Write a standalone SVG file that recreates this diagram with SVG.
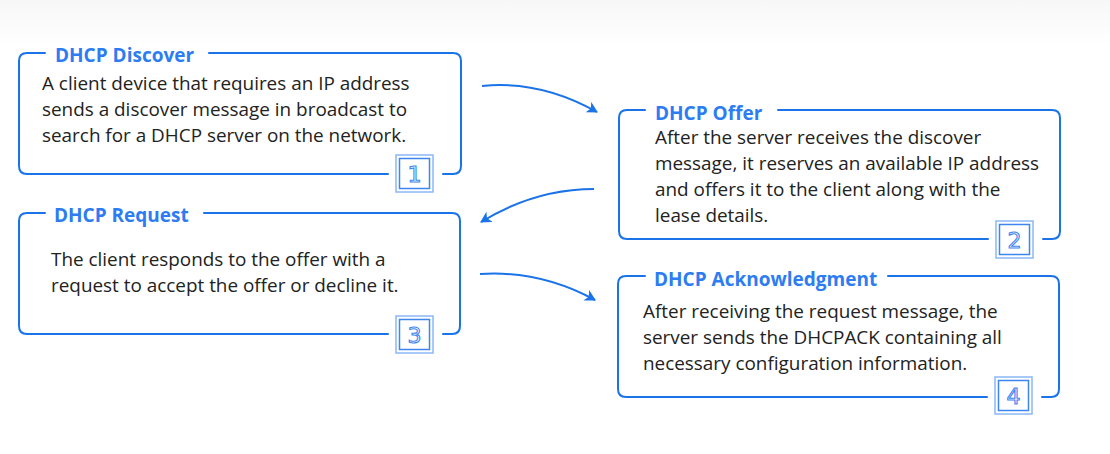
<svg xmlns="http://www.w3.org/2000/svg" width="1110" height="454" viewBox="0 0 1110 454">
<defs>
<linearGradient id="bg" x1="0" y1="0" x2="0" y2="1">
<stop offset="0" stop-color="#f7f7f7"/>
<stop offset="0.1" stop-color="#ffffff"/>
<stop offset="1" stop-color="#ffffff"/>
</linearGradient>
<marker id="ah" viewBox="0 0 12 12" refX="10" refY="6" markerWidth="12" markerHeight="12" markerUnits="userSpaceOnUse" orient="auto">
<path d="M0,0 L11,6 L0,12 L3,6 Z" fill="#1a73e8"/>
</marker>
<style>
.frame{fill:none;stroke:#1a73e8;stroke-width:2;stroke-linecap:round}
.title{font-family:"Open Sans","Liberation Sans",sans-serif;font-weight:bold;font-size:19px;fill:#2d7cf2}
.body{font-family:"Open Sans","Liberation Sans",sans-serif;font-size:18.9px;fill:#222222}
.nbo{fill:#ffffff;stroke:#8ab8f6;stroke-width:1.5}
.nbi{fill:none;stroke:#3d86f0;stroke-width:1.5}
.num{font-family:"DejaVu Sans","Liberation Sans",sans-serif;font-size:22px;fill:#ffffff;stroke:#3d86f0;stroke-width:1.1;text-anchor:middle}
.conn{fill:none;stroke:#1a73e8;stroke-width:2}
</style>
</defs>
<rect width="1110" height="454" fill="url(#bg)"/>

<g id="node-discover">
<path class="frame" d="M45,53 H27 Q19,53 19,61 V166 Q19,174 27,174 H388 M443,174 H453 Q461,174 461,166 V61 Q461,53 453,53 H209"/>
<text class="title" x="55" y="62">DHCP Discover</text>
<text class="body" x="42" y="90">A client device that requires an IP address</text>
<text class="body" x="42" y="116">sends a discover message in broadcast to</text>
<text class="body" x="42" y="142">search for a DHCP server on the network.</text>
<rect class="nbo" x="396" y="155" width="37" height="37"/>
<rect class="nbi" x="399.5" y="158.5" width="30" height="30"/>
<text class="num" x="414.5" y="182">1</text>
</g>

<g id="node-offer">
<path class="frame" d="M645,110 H627 Q619,110 619,118 V231 Q619,239 627,239 H988 M1043,239 H1052 Q1060,239 1060,231 V118 Q1060,110 1052,110 H778"/>
<text class="title" x="655" y="120">DHCP Offer</text>
<text class="body" x="655" y="144">After the server receives the discover</text>
<text class="body" x="655" y="170">message, it reserves an available IP address</text>
<text class="body" x="655" y="196">and offers it to the client along with the</text>
<text class="body" x="655" y="222">lease details.</text>
<rect class="nbo" x="996" y="221" width="37" height="37"/>
<rect class="nbi" x="999.5" y="224.5" width="30" height="30"/>
<text class="num" x="1014.5" y="248">2</text>
</g>

<g id="node-request">
<path class="frame" d="M45,213 H27 Q19,213 19,221 V326 Q19,334 27,334 H388 M443,334 H452 Q460,334 460,326 V221 Q460,213 452,213 H204"/>
<text class="title" x="54" y="222">DHCP Request</text>
<text class="body" x="51" y="266">The client responds to the offer with a</text>
<text class="body" x="51" y="292">request to accept the offer or decline it.</text>
<rect class="nbo" x="396" y="316" width="37" height="37"/>
<rect class="nbi" x="399.5" y="319.5" width="30" height="30"/>
<text class="num" x="414.5" y="343">3</text>
</g>

<g id="node-ack">
<path class="frame" d="M645,276 H626 Q618,276 618,284 V389 Q618,397 626,397 H987 M1042,397 H1051 Q1059,397 1059,389 V284 Q1059,276 1051,276 H888"/>
<text class="title" x="654" y="286">DHCP Acknowledgment</text>
<text class="body" x="643" y="318">After receiving the request message, the</text>
<text class="body" x="643" y="344">server sends the DHCPACK containing all</text>
<text class="body" x="643" y="370">necessary configuration information.</text>
<rect class="nbo" x="995" y="377" width="37" height="37"/>
<rect class="nbi" x="998.5" y="380.5" width="30" height="30"/>
<text class="num" x="1013.5" y="404">4</text>
</g>

<g id="connectors">
<path class="conn" d="M482,86 Q540,80 597,112" marker-end="url(#ah)"/>
<path class="conn" d="M594,189 Q535,189 481,222" marker-end="url(#ah)"/>
<path class="conn" d="M480,274 Q540,270 595,300" marker-end="url(#ah)"/>
</g>
</svg>
